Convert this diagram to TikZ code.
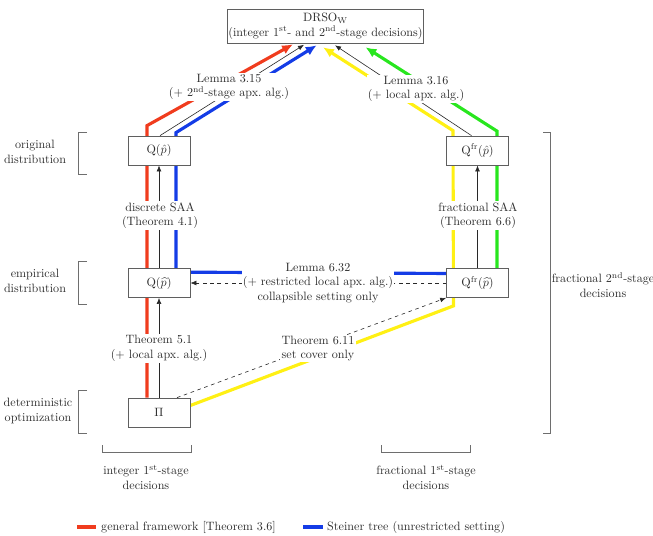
\documentclass[tikz,border=0pt]{standalone}
\usepackage{amsmath}
\usetikzlibrary{calc,arrows.meta}
\definecolor{cred}{RGB}{240,60,30}
\definecolor{cblue}{RGB}{20,60,230}
\definecolor{cyellow}{RGB}{255,240,20}
\definecolor{cgreen}{RGB}{40,230,30}
\definecolor{boxgray}{RGB}{95,95,95}
\definecolor{linegray}{RGB}{40,40,40}
\definecolor{brgray}{RGB}{110,110,110}
\definecolor{txt}{RGB}{45,45,45}
\pgfdeclarelayer{bg}
\pgfsetlayers{bg,main}
\begin{document}
\begin{tikzpicture}[x=0.8264pt,y=-0.8264pt,
  qbox/.style={draw=boxgray, fill=white, line width=0.6pt, minimum width=51.2pt, minimum height=24pt, inner sep=1pt, text=txt},
  topbox/.style={draw=boxgray, fill=white, line width=0.6pt, minimum width=160pt, minimum height=28pt, inner sep=1pt, align=center, text=txt},
  lbl/.style={fill=white, align=center, inner sep=1pt, text=txt},
  note/.style={align=center, text=txt, inner sep=0pt},
  cline/.style={line width=2.6pt, -{Latex[length=9pt,width=8pt]}},
  cplain/.style={line width=2.6pt},
  blk/.style={draw=linegray, line width=0.5pt, -{Latex[length=5pt,width=4pt]}},
  dsh/.style={blk, dashed},
  brk/.style={draw=brgray, line width=0.7pt},
]
\useasboundingbox (0,0) rectangle (653,535);

% main nodes
\node[topbox] (drso) at (325.5,26) {DRSO$_{\mathrm{W}}$\\(integer 1$^{\text{st}}$- and 2$^{\text{nd}}$-stage decisions)};
\node[qbox] (qo) at (159,150.5) {$\mathrm{Q}(\hat{p})$};
\node[qbox] (qe) at (159,283) {$\mathrm{Q}(\widehat{p})$};
\node[qbox] (pi) at (159,412.5) {$\Pi$};
\node[qbox] (fo) at (477.5,150.5) {$\mathrm{Q}^{\mathrm{fr}}(\hat{p})$};
\node[qbox] (fe) at (477.5,283) {$\mathrm{Q}^{\mathrm{fr}}(\widehat{p})$};

% labels
\node[lbl] (l315) at (229,87) {Lemma 3.15\\(+ 2$^{\text{nd}}$-stage apx.\ alg.)};
\node[lbl] (l316) at (416,89) {Lemma 3.16\\(+ local apx.\ alg.)};
\node[lbl] (dsaa) at (160,215.5) {discrete SAA\\(Theorem 4.1)};
\node[lbl] (fsaa) at (478,215.5) {fractional SAA\\(Theorem 6.6)};
\node[lbl] (l632) at (318,283) {Lemma 6.32\\(+ restricted local apx.\ alg.)\\collapsible setting only};
\node[lbl] (t51) at (159,348.5) {Theorem 5.1\\(+ local apx.\ alg.)};
\node[lbl] (t611) at (318,348.5) {Theorem 6.11\\set cover only};

\begin{pgfonlayer}{bg}
% colored paths
\draw[cline, cred] ($(pi.north)+(-12,0)$) -- ($(qo.north)+(-12,-10)$) -- ($(drso.south)+(-32.5,1)$);
\draw[cline, cblue] ($(fe.west)+(5,-9.5)$) -- ($(qe.north)+(17,4)$) -- ($(qo.north)+(17,-3)$) -- ($(drso.south)+(-8.8,2)$);
\draw[cline, cyellow] ($(pi.east)+(0,-7)$) -- ($(fe.south)+(-24,8)$) -- ($(fo.north)+(-24.5,-5)$) -- ($(drso.south)+(-2.5,4)$);
\draw[cline, cgreen] ($(fe.north)+(19.5,0)$) -- ($(fo.north)+(19.5,-4.5)$) -- ($(drso.south)+(40,4)$);
% black arrows
\draw[blk] ($(qo.north)+(1,0)$) -- ($(drso.south)+(-21.5,1.5)$);
\draw[blk] ($(fo.north)+(-6,0)$) -- ($(drso.south)+(9.5,2)$);
\draw[blk] (pi.north) -- (qe.south);
\draw[blk] (qe.north) -- (qo.south);
\draw[blk] (fe.north) -- (fo.south);
\draw[dsh] (fe.west) -- (qe.east);
\draw[dsh] ($(pi.north)+(18,0)$) -- (fe.south west);
\end{pgfonlayer}

% brackets
\draw[brk] (87,132) -- (78,132) -- (78,174) -- (87,174);
\draw[brk] (87,261) -- (78,261) -- (78,304) -- (87,304);
\draw[brk] (87,390) -- (78,390) -- (78,433) -- (87,433);
\draw[brk] (543,132) -- (550,132) -- (550,433) -- (543,433);
\draw[brk] (102,445) -- (102,452) -- (191,452) -- (191,445);
\draw[brk] (381,445) -- (381,452) -- (470,452) -- (470,445);

\node[note] (n1) at (35,152) {original\\distribution};
\node[note] (n2) at (35,281) {empirical\\distribution};
\node[note] (n3) at (38,411) {deterministic\\optimization};
\node[note] (n4) at (603,285) {fractional 2$^{\text{nd}}$-stage\\decisions};
\node[note] (n5) at (146,477.5) {integer 1$^{\text{st}}$-stage\\decisions};
\node[note] (n6) at (426,477.5) {fractional 1$^{\text{st}}$-stage\\decisions};

% legend
\coordinate (r1) at (77,527);
\coordinate (r2) at (96,527);
\coordinate (b1) at (303,527);
\coordinate (b2) at (323,527);
\draw[cplain, cred] (r1) -- (r2);
\draw[cplain, cblue] (b1) -- (b2);
\node[note, anchor=west] (lg1) at (101,527) {general framework [Theorem 3.6]};
\node[note, anchor=west] (lg2) at (327,527) {Steiner tree (unrestricted setting)};
\end{tikzpicture}
\end{document}
